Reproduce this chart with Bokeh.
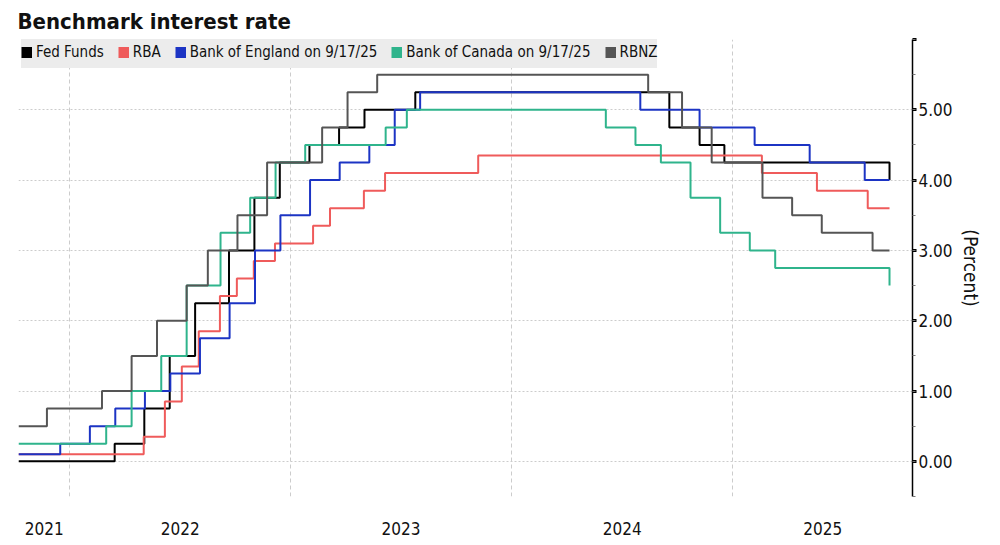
import pandas as pd
from bokeh.plotting import figure
from bokeh.models import (Range1d, FixedTicker, SingleIntervalTicker, CustomJSTickFormatter,
                          NumeralTickFormatter, Legend, LegendItem)
from bokeh.embed import file_html
from bokeh.resources import INLINE

# ---------------- data ----------------
view_start = "2021-10-08"
view_end = "2025-10-25"

fed_dates = ["2021-10-08", "2022-03-16", "2022-05-04", "2022-06-15", "2022-07-27", "2022-09-21",
             "2022-11-02", "2022-12-14", "2023-02-01", "2023-03-22", "2023-05-03", "2023-07-26",
             "2024-09-18", "2024-11-07", "2024-12-18", "2025-09-17"]
fed_rates = [0.00, 0.25, 0.75, 1.50, 2.25, 3.00, 3.75, 4.25, 4.50, 4.75, 5.00, 5.25,
             4.75, 4.50, 4.25, 4.00]

rba_dates = ["2021-10-08", "2022-05-03", "2022-06-07", "2022-07-05", "2022-08-02", "2022-09-06",
             "2022-10-04", "2022-11-01", "2022-12-06", "2023-02-07", "2023-03-07", "2023-05-02",
             "2023-06-06", "2023-11-07", "2025-02-18", "2025-05-20", "2025-08-12", "2025-09-17"]
rba_rates = [0.10, 0.35, 0.85, 1.35, 1.85, 2.35, 2.60, 2.85, 3.10, 3.35, 3.60, 3.85,
             4.10, 4.35, 4.10, 3.85, 3.60, 3.60]

boe_dates = ["2021-10-08", "2021-12-16", "2022-02-03", "2022-03-17", "2022-05-05", "2022-06-16",
             "2022-08-04", "2022-09-22", "2022-11-03", "2022-12-15", "2023-02-02", "2023-03-23",
             "2023-05-11", "2023-06-22", "2023-08-03", "2024-08-01", "2024-11-07", "2025-02-06",
             "2025-05-08", "2025-08-07", "2025-09-17"]
boe_rates = [0.10, 0.25, 0.50, 0.75, 1.00, 1.25, 1.75, 2.25, 3.00, 3.50, 4.00, 4.25,
             4.50, 5.00, 5.25, 5.00, 4.75, 4.50, 4.25, 4.00, 4.00]

boc_dates = ["2021-10-08", "2022-03-02", "2022-04-13", "2022-06-01", "2022-07-13", "2022-09-07",
             "2022-10-26", "2022-12-07", "2023-01-25", "2023-06-07", "2023-07-12", "2024-06-05",
             "2024-07-24", "2024-09-04", "2024-10-23", "2024-12-11", "2025-01-29", "2025-03-12",
             "2025-09-17"]
boc_rates = [0.25, 0.50, 1.00, 1.50, 2.50, 3.25, 3.75, 4.25, 4.50, 4.75, 5.00, 4.75,
             4.50, 4.25, 3.75, 3.25, 3.00, 2.75, 2.50]

rbnz_dates = ["2021-10-08", "2021-11-24", "2022-02-23", "2022-04-13", "2022-05-25", "2022-07-13",
              "2022-08-17", "2022-10-05", "2022-11-23", "2023-02-22", "2023-04-05", "2023-05-24",
              "2024-08-14", "2024-10-09", "2024-11-27", "2025-02-19", "2025-04-09", "2025-05-28",
              "2025-08-20", "2025-09-17"]
rbnz_rates = [0.50, 0.75, 1.00, 1.50, 2.00, 2.50, 3.00, 3.50, 4.25, 4.75, 5.25, 5.50,
              5.25, 4.75, 4.25, 3.75, 3.50, 3.25, 3.00, 3.00]

series_names = ["Fed Funds", "RBA", "Bank of England on 9/17/25", "Bank of Canada on 9/17/25", "RBNZ"]
series_colors = ["#000000", "#ef5b5b", "#1c34c4", "#2fb48c", "#555555"]
series_dates = [fed_dates, rba_dates, boe_dates, boc_dates, rbnz_dates]
series_rates = [fed_rates, rba_rates, boe_rates, boc_rates, rbnz_rates]

year_labels = [2021, 2022, 2023, 2024, 2025]
y_ticks_interval = 1

# ---------------- figure ----------------
FONT = "DejaVu Sans Condensed"
x0 = pd.Timestamp(view_start)
x1 = pd.Timestamp(view_end)

p = figure(width=984, height=537, x_axis_type="datetime", y_axis_location="right",
           x_range=Range1d(x0, x1), y_range=Range1d(-0.5, 6.0),
           output_backend="svg", toolbar_location=None,
           min_border_left=18, min_border_right=72, min_border_top=37, min_border_bottom=40)

p.title.text = "Benchmark interest rate"
p.title.text_font = FONT
p.title.text_font_style = "bold"
p.title.text_font_size = "22px"
p.title.text_color = "#111111"
p.title.standoff = 12
p.title.offset = -1
p.outline_line_color = None

for d, r, c in zip(series_dates, series_rates, series_colors):
    p.step(x=pd.to_datetime(d), y=r, mode="after", line_color=c, line_width=2)

# legend with square swatches: renderers hold a single NaN point, so nothing is drawn in the plot
nan = float("nan")
items = []
for name, c in zip(series_names, series_colors):
    rr = p.line(x=[nan], y=[nan], line_color=c, line_width=11, line_cap="butt")
    items.append(LegendItem(label=name, renderers=[rr]))
legend = Legend(items=items, orientation="horizontal", location=(3, 428),
                background_fill_color="#ececec", background_fill_alpha=1.0,
                border_line_color=None, label_text_font=FONT, label_text_font_size="15px",
                label_text_color="#111111", label_height=32,
                glyph_width=11, glyph_height=32, label_standoff=4, spacing=14,
                padding=10, margin=0)
p.add_layout(legend)

# x axis: year labels centered in visible span of each year
def ms(ts):
    return ts.timestamp() * 1000.0

mids = []
for yr in year_labels:
    lo = max(x0, pd.Timestamp(f"{yr}-01-01"))
    hi = min(x1, pd.Timestamp(f"{yr + 1}-01-01"))
    mids.append((ms(lo) + ms(hi)) / 2)

xa = p.xaxis[0]
xa.ticker = FixedTicker(ticks=mids)
xa.formatter = CustomJSTickFormatter(code="return String(new Date(tick).getUTCFullYear());")
xa.axis_line_color = None
xa.major_tick_line_color = None
xa.minor_tick_line_color = None
xa.major_label_standoff = 19
xa.major_label_text_font = FONT
xa.major_label_text_font_size = "17px"
xa.major_label_text_color = "#111111"

p.xgrid.ticker = FixedTicker(ticks=[ms(pd.Timestamp(f"{yr}-01-01")) for yr in year_labels[1:]])
p.xgrid.grid_line_color = "#cccccc"
p.xgrid.grid_line_dash = "4 3"
p.xgrid.grid_line_width = 1

ya = p.yaxis[0]
ya.ticker = SingleIntervalTicker(interval=y_ticks_interval, num_minor_ticks=2)
ya.formatter = NumeralTickFormatter(format="0.00")
ya.major_label_overrides = {6: ""}
ya.axis_line_color = "#000000"
ya.axis_line_width = 1.5
ya.major_tick_out = 4
ya.major_tick_in = 0
ya.major_tick_line_width = 3
ya.minor_tick_in = 0
ya.minor_tick_out = 3
ya.minor_tick_line_width = 1
ya.minor_tick_line_color = "#777777"
ya.major_label_standoff = 2
ya.major_label_text_font = FONT
ya.major_label_text_font_size = "17px"
ya.major_label_text_color = "#111111"
ya.axis_label = "(Percent)"
ya.axis_label_text_font = FONT
ya.axis_label_text_font_size = "19px"
ya.axis_label_text_font_style = "normal"
ya.axis_label_standoff = 4
ya.axis_label_text_color = "#111111"

p.ygrid.ticker = SingleIntervalTicker(interval=y_ticks_interval)
p.ygrid.grid_line_color = "#cccccc"
p.ygrid.grid_line_dash = "2 2"

open("out.html", "w").write(file_html(p, INLINE))
